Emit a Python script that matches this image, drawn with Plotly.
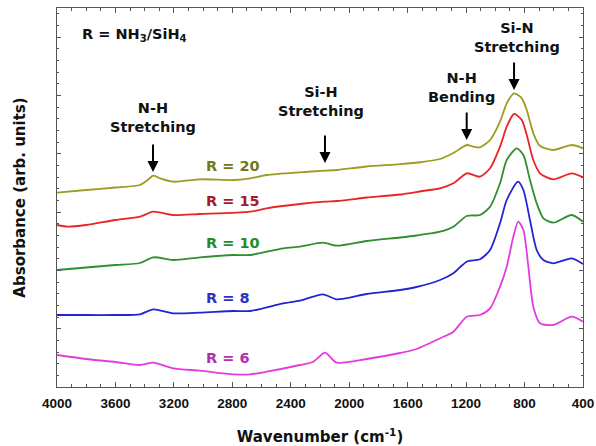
import plotly.graph_objects as go

# FTIR absorbance spectra of SiNx films for different NH3/SiH4 gas ratios (offset for clarity)
wn_r20 = [4000, 3800, 3600, 3432, 3380, 3341, 3300, 3206, 3021, 2795, 2679, 2565, 2337, 2166, 2086,
          1880, 1652, 1500, 1378, 1287, 1196, 1150, 1105, 1036, 968, 922, 872, 819, 785, 740, 694,
          603, 477, 400]
ab_r20 = [1.943, 1.97, 1.995, 2.02, 2.07, 2.113, 2.09, 2.053, 2.077, 2.07, 2.087, 2.12, 2.147, 2.163, 2.17,
          2.205, 2.228, 2.25, 2.28, 2.34, 2.42, 2.403, 2.397, 2.47, 2.653, 2.837, 2.937, 2.887, 2.77, 2.537, 2.41,
          2.37, 2.42, 2.387]

wn_r15 = [4000, 3925, 3800, 3600, 3432, 3341, 3206, 3021, 2679, 2565, 2337, 2166, 2086, 1949, 1880,
          1652, 1500, 1378, 1287, 1196, 1150, 1105, 1036, 968, 922, 872, 819, 785, 740, 694, 603, 477, 400]
ab_r15 = [1.62, 1.603, 1.62, 1.67, 1.703, 1.753, 1.72, 1.73, 1.753, 1.787, 1.83, 1.853, 1.86, 1.882, 1.895,
          1.925, 1.96, 1.987, 2.037, 2.137, 2.12, 2.103, 2.187, 2.403, 2.603, 2.73, 2.67, 2.52, 2.27, 2.137,
          2.077, 2.137, 2.097]

wn_r10 = [4000, 3800, 3600, 3432, 3341, 3206, 3021, 2795, 2679, 2451, 2337, 2180, 2086, 1880, 1652,
          1540, 1378, 1287, 1196, 1105, 1036, 968, 922, 853, 808, 763, 717, 671, 603, 477, 400]
ab_r10 = [1.17, 1.195, 1.22, 1.24, 1.297, 1.27, 1.297, 1.32, 1.32, 1.387, 1.403, 1.443, 1.413, 1.46, 1.495,
          1.515, 1.553, 1.603, 1.71, 1.72, 1.803, 2.037, 2.27, 2.387, 2.32, 2.07, 1.837, 1.687, 1.643, 1.72, 1.653]

wn_r8 = [4000, 3800, 3600, 3432, 3341, 3206, 3021, 2795, 2679, 2451, 2337, 2180, 2086, 1880, 1652,
         1540, 1378, 1287, 1196, 1105, 1036, 968, 922, 845, 808, 763, 717, 671, 603, 477, 400]
ab_r8 = [0.72, 0.72, 0.72, 0.727, 0.777, 0.737, 0.743, 0.76, 0.76, 0.837, 0.863, 0.927, 0.877, 0.93, 0.97,
         1.0, 1.07, 1.137, 1.253, 1.277, 1.37, 1.637, 1.87, 2.053, 1.97, 1.67, 1.37, 1.27, 1.237, 1.287, 1.23]

wn_r6 = [4000, 3800, 3600, 3432, 3341, 3206, 3021, 2793, 2679, 2565, 2337, 2246, 2166, 2086, 1880,
         1652, 1540, 1378, 1287, 1196, 1105, 1036, 968, 922, 877, 843, 808, 774, 740, 694, 603, 477, 400]
ab_r6 = [0.32, 0.28, 0.25, 0.22, 0.243, 0.187, 0.163, 0.127, 0.127, 0.153, 0.22, 0.253, 0.343, 0.243, 0.28,
         0.34, 0.38, 0.487, 0.553, 0.703, 0.72, 0.787, 1.003, 1.203, 1.503, 1.653, 1.57, 1.203, 0.803, 0.637,
         0.62, 0.703, 0.653]

series = [
    ("R = 20", wn_r20, ab_r20, "#9c9c22", "#76761c"),
    ("R = 15", wn_r15, ab_r15, "#e82424", "#a8182c"),
    ("R = 10", wn_r10, ab_r10, "#2f8f2f", "#248a2c"),
    ("R = 8", wn_r8, ab_r8, "#2424d4", "#2f2fc0"),
    ("R = 6", wn_r6, ab_r6, "#e23ce0", "#b030b0"),
]
# label anchor (wavenumber, absorbance) for each curve name
label_pos = {"R = 20": (2994, 2.21), "R = 15": (2994, 1.86), "R = 10": (2994, 1.44),
             "R = 8": (2994, 0.89), "R = 6": (2994, 0.29)}

# band assignments: text position and arrow head position
bands = [
    ("N-H<br>Stretching", (3343, 2.695), (3343, 2.15)),
    ("Si-H<br>Stretching", (2190, 2.86), (2166, 2.24)),
    ("N-H<br>Bending", (1231, 3.00), (1196, 2.47)),
    ("Si-N<br>Stretching", (851, 3.495), (872, 2.97)),
]

ann_font = dict(family="DejaVu Sans", size=14.5, color="#111111", weight="bold")

fig = go.Figure()
annotations = []
for name, wn, ab, lc, tc in series:
    fig.add_trace(go.Scatter(x=wn, y=ab, mode="lines", name=name,
                             line=dict(color=lc, width=1.8, shape="spline", smoothing=0.7)))
    lx, ly = label_pos[name]
    annotations.append(dict(x=lx, y=ly, text=name, showarrow=False, xanchor="left", yanchor="middle",
                            font=dict(family="DejaVu Sans", size=14.5, color=tc, weight="bold")))

for text, (tx, ty), (hx, hy) in bands:
    annotations.append(dict(x=tx, y=ty, text=text, showarrow=False, xanchor="center", yanchor="middle",
                            font=ann_font, align="center"))
    annotations.append(dict(x=hx, y=hy, ax=0, ay=-29, text="", showarrow=True, arrowhead=2,
                            arrowsize=1.1, arrowwidth=2, arrowcolor="#000000"))

annotations.append(dict(x=3843, y=3.52, text="R = NH<sub>3</sub>/SiH<sub>4</sub>", showarrow=False,
                        xanchor="left", yanchor="middle", font=ann_font))

axis_common = dict(showline=True, linecolor="#555555", linewidth=1, mirror="ticks",
                   ticks="inside", tickcolor="#555555", showgrid=False, zeroline=False,
                   automargin=False)

fig.update_layout(
    width=596, height=446,
    margin=dict(l=57, r=13, t=8, b=59),
    paper_bgcolor="white", plot_bgcolor="white",
    showlegend=False,
    annotations=annotations,
    xaxis=dict(range=[4000, 400], tickmode="linear", tick0=400, dtick=400, ticklen=5, tickwidth=1,
               minor=dict(tickmode="linear", tick0=400, dtick=100, ticklen=3, tickwidth=1,
                          ticks="inside", tickcolor="#555555"),
               tickfont=dict(family="Liberation Sans", size=13.5, color="#111111", weight="bold"),
               ticklabelstandoff=4,
               title=dict(text="Wavenumber (cm<sup>-1</sup>)", standoff=22,
                          font=dict(family="DejaVu Sans", size=15, color="#111111", weight="bold")),
               **axis_common),
    yaxis=dict(range=[0, 3.79], tickmode="linear", tick0=0, dtick=0.583, ticklen=4, tickwidth=1,
               minor=dict(tickmode="linear", tick0=0, dtick=0.1166, ticklen=2, tickwidth=1,
                          ticks="inside", tickcolor="#555555"),
               showticklabels=False,
               title=dict(text="Absorbance (arb. units)", standoff=26,
                          font=dict(family="DejaVu Sans", size=15, color="#111111", weight="bold")),
               **axis_common),
)

fig.write_html("out.html")
